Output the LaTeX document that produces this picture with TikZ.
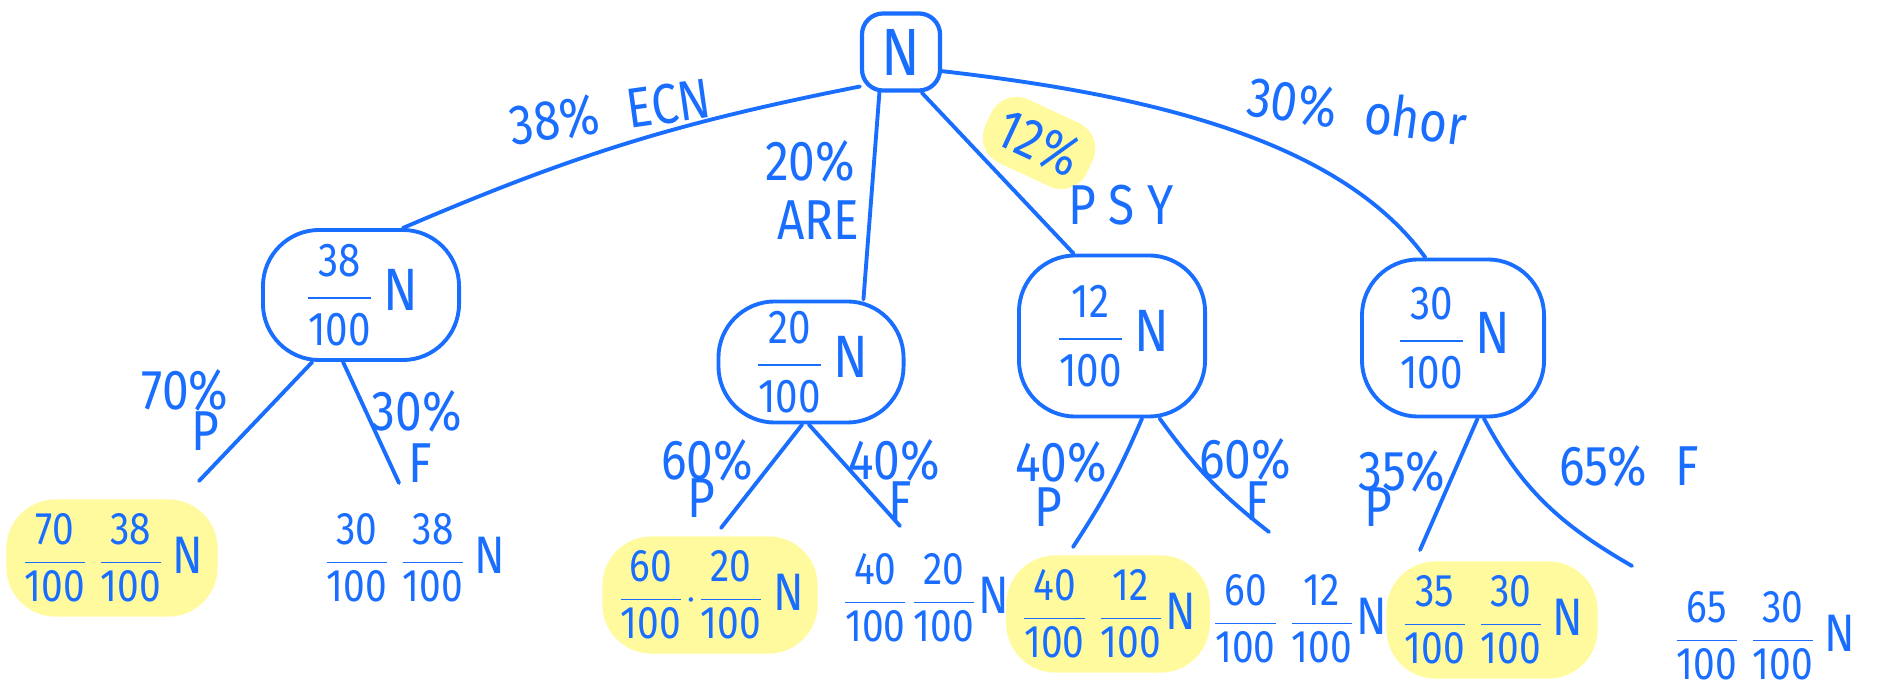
\documentclass[tikz,border=0pt]{standalone}
\usepackage{fontspec}
\setmainfont{Fira Sans}[FakeStretch=0.85]
\usepackage{amsmath}
\definecolor{ink}{HTML}{1A6EFF}
\definecolor{hl}{HTML}{FFFA9E}
\newcommand{\fr}[2]{\ensuremath{\dfrac{\mbox{#1}}{\mbox{#2}}}}
\newcommand{\blobN}{{\fontsize{17}{19}\selectfont N}}
\newcommand{\leafN}{{\fontsize{15}{17}\selectfont N}}
\tikzset{
  lbl/.style={text=ink, font=\fontsize{16}{18}\selectfont, inner sep=1pt},
  blob/.style={draw=ink, text=ink, line width=1.1pt, rounded corners=16pt, inner sep=2pt, font=\fontsize{13.5}{15}\selectfont},
  rootbox/.style={draw=ink, text=ink, line width=1.2pt, rounded corners=6pt, minimum width=0.78cm, minimum height=0.77cm, inner sep=0pt, font=\fontsize{19}{20}\selectfont},
  leaf/.style={text=ink, font=\fontsize{13}{14}\selectfont, inner sep=2pt},
  hleaf/.style={leaf, fill=hl, rounded corners=14pt, inner sep=4pt},
  br/.style={draw=ink, line width=1.1pt, line cap=round},
}
\begin{document}
\begin{tikzpicture}[x=0.01cm, y=0.01cm]
\useasboundingbox (0,0) rectangle (1895,-692);
% root and first level
\node[rootbox] (R) at (901,-52) {N};
\node[blob, minimum width=1.96cm, minimum height=1.30cm] (A) at (361,-295) {\fr{38}{100}\,\blobN};
\node[blob, minimum width=1.85cm, minimum height=1.21cm] (B) at (811,-362) {\fr{20}{100}\,\blobN};
\node[blob, minimum width=1.86cm, minimum height=1.61cm] (C) at (1112,-336) {\fr{12}{100}\,\blobN};
\node[blob, minimum width=1.82cm, minimum height=1.57cm] (D) at (1453,-338) {\fr{30}{100}\,\blobN};

\draw[br] (R.220) to[bend right=6] (A.58);
\draw[br] (R.242) -- (B.50);
\draw[br] (R.297) -- (C.115);
\draw[br] (R.-25) .. controls (1150,-95) and (1340,-140) .. (D.109);

% edge labels, first level
\node[lbl, rotate=8] (lA) at (610,-112) {38\%\hspace{0.5em}ECN};
\node[lbl] (lB1) at (810,-161) {20\%};
\node[lbl] (lB2) at (818,-220) {ARE};
\node[lbl, fill=hl, rounded corners=8pt, inner sep=4pt, rotate=-25] (lC1) at (1039,-143) {12\%};
\node[lbl] (lC2) at (1121,-205) {P S Y};
\node[lbl, rotate=-8] (lD) at (1357,-111) {30\%\hspace{0.5em}ohor};

% free ends of second level
\coordinate (a1) at (199,-481);
\coordinate (a2) at (399,-483);
\coordinate (b1) at (721,-528);
\coordinate (b2) at (900,-526);
\coordinate (c1) at (1073,-547);
\coordinate (c2) at (1269,-532);
\coordinate (d1) at (1420,-550);
\coordinate (d2) at (1632,-566);

\draw[br] (A.234) -- (a1);
\draw[br] (A.255) -- (a2);
\draw[br] (B.262) -- (b1);
\draw[br] (B.268) -- (b2);
\draw[br] (C.290) to[bend left=5] (c1);
\draw[br] (C.300) to[bend right=8] (c2);
\draw[br] (D.287) -- (d1);
\draw[br] (D.291) to[out=-62, in=150] (d2);

% edge labels, second level
\node[lbl] (la1) at (185,-390) {70\%};
\node[lbl] (la1b) at (205,-431) {P};
\node[lbl] (la2) at (417,-411) {30\%};
\node[lbl] (la2b) at (420,-463) {F};
\node[lbl] (lb1) at (707,-460) {60\%};
\node[lbl] (lb1b) at (701,-498) {P};
\node[lbl] (lb2) at (894,-460) {40\%};
\node[lbl] (lb2b) at (900,-501) {F};
\node[lbl] (lc1) at (1061,-462) {40\%};
\node[lbl] (lc1b) at (1048,-507) {P};
\node[lbl] (lc2) at (1245,-459) {60\%};
\node[lbl] (lc2b) at (1257,-501) {F};
\node[lbl] (ld1) at (1402,-471) {35\%};
\node[lbl] (ld1b) at (1378,-507) {P};
\node[lbl] (ld2) at (1629,-466) {65\%\hspace{0.5em}F};

% leaves
\node[hleaf] (L1) at (112,-558) {\fr{70}{100}\,\fr{38}{100}\,\leafN};
\node[leaf]  (L2) at (414,-558) {\fr{30}{100}\,\fr{38}{100}\,\leafN};
\node[hleaf] (L3) at (710,-595) {\fr{60}{100}$\cdot$\fr{20}{100}\,\leafN};
\node[leaf]  (L4) at (925,-598) {\fr{40}{100}\fr{20}{100}\leafN};
\node[hleaf] (L5) at (1108,-614) {\fr{40}{100}\,\fr{12}{100}\leafN};
\node[leaf]  (L6) at (1299,-619) {\fr{60}{100}\,\fr{12}{100}\leafN};
\node[hleaf] (L7) at (1492,-620) {\fr{35}{100}\,\fr{30}{100}\,\leafN};
\node[leaf]  (L8) at (1764,-636) {\fr{65}{100}\,\fr{30}{100}\,\leafN};
\end{tikzpicture}
\end{document}
